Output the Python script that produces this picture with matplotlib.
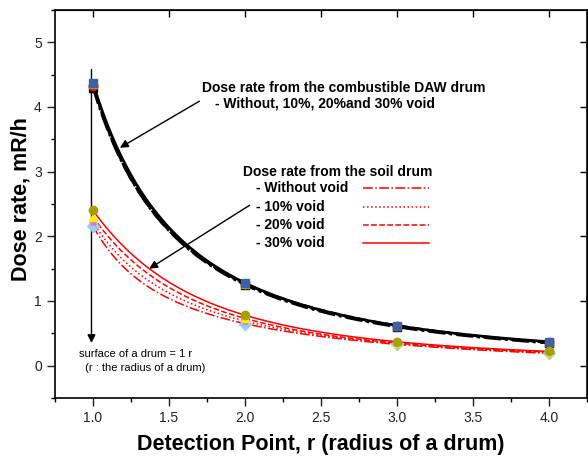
import numpy as np
import matplotlib
matplotlib.use('Agg')
import matplotlib.pyplot as plt

plt.rcParams['font.family'] = ['Liberation Sans', 'DejaVu Sans']

# detection points (in drum radii)
r_points = [1.0, 2.0, 3.0, 4.0]
void_labels = ['Without void', '10% void', '20% void', '30% void']

# dose rate, mR/h - combustible DAW drum
daw_0 = [4.30, 1.25, 0.60, 0.35]
daw_10 = [4.33, 1.26, 0.61, 0.36]
daw_20 = [4.35, 1.27, 0.62, 0.36]
daw_30 = [4.37, 1.28, 0.62, 0.37]

# dose rate, mR/h - soil drum
soil_0 = [2.16, 0.65, 0.33, 0.19]
soil_10 = [2.22, 0.69, 0.34, 0.20]
soil_20 = [2.30, 0.73, 0.35, 0.21]
soil_30 = [2.40, 0.78, 0.37, 0.22]

line_styles = ['-.', ':', '--', '-']
daw_markers = [('s', 'black'), ('o', 'red'), ('^', '#8cbf00'), ('s', '#3b62a3')]
soil_markers = [('D', '#99ccee'), ('*', '#ff66cc'), ('^', '#ffee00'), ('o', '#a6a000')]


def smooth(r, y):
    # cubic through the 4 points in log-log space, just for a smooth drawn line
    c = np.polyfit(np.log(r), np.log(y), 3)
    rr = np.linspace(min(r), max(r), 200)
    return rr, np.exp(np.polyval(c, np.log(rr)))


fig = plt.figure(figsize=(5.88, 4.57), dpi=100)
ax = fig.add_axes([55 / 588, 1 - 398 / 457, 532 / 588, 388 / 457])

r = np.array(r_points)
for ys, ls in zip([daw_0, daw_10, daw_20, daw_30], line_styles):
    xs, yy = smooth(r, np.array(ys))
    ax.plot(xs, yy, color='black', ls=ls, lw=1.9)

soil_handles = []
for ys, ls in zip([soil_0, soil_10, soil_20, soil_30], line_styles):
    xs, yy = smooth(r, np.array(ys))
    h, = ax.plot(xs, yy, color='red', ls=ls, lw=1.1)
    soil_handles.append(h)

for ys, (m, c) in zip([daw_0, daw_10, daw_20, daw_30], daw_markers):
    ax.plot(r_points, ys, ls='none', marker=m, color=c, ms=6, mec=c, zorder=5)
for ys, (m, c) in zip([soil_0, soil_10, soil_20, soil_30], soil_markers):
    ax.plot(r_points, ys, ls='none', marker=m, color=c, ms=6, mec=c, zorder=5)

ax.set_xlim(0.75, 4.25)
ax.set_ylim(-0.5, 5.5)
ax.set_xticks(np.arange(1.0, 4.01, 0.5))
ax.set_xticklabels(['1.0', '1.5', '2.0', '2.5', '3.0', '3.5', '4.0'])
ax.set_xticks(np.arange(0.75, 4.26, 0.25), minor=True)
ax.set_yticks(range(0, 6))
ax.set_yticks(np.arange(-0.5, 5.51, 0.5), minor=True)
ax.tick_params(which='major', direction='out', length=6, width=1, labelsize=10, colors='#222222')
ax.tick_params(which='minor', direction='out', length=3, width=1)
for s in ax.spines.values():
    s.set_linewidth(1.2)

top = ax.secondary_xaxis('top')
top.set_xticks(np.arange(1.0, 4.01, 0.5))
top.tick_params(direction='in', length=5, width=1, labeltop=False)
right = ax.secondary_yaxis('right')
right.set_yticks(range(0, 6))
right.tick_params(direction='in', length=5, width=1, labelright=False)

ax.set_xlabel('Detection Point, r (radius of a drum)', fontsize=15.5, fontweight='bold', labelpad=6)
ax.set_ylabel('Dose rate, mR/h', fontsize=15.5, fontweight='bold')
ax.yaxis.set_label_coords(-0.044, 0.513)

# annotations
ax.text(1.72, 4.29, 'Dose rate from the combustible DAW drum', fontsize=10,
        fontweight='bold', va='center', ha='left')
ax.text(1.80, 4.05, '- Without, 10%, 20%and 30% void', fontsize=10,
        fontweight='bold', va='center', ha='left')
arrow = dict(arrowstyle='-|>', color='black', lw=1.0, mutation_scale=12, shrinkA=0, shrinkB=0)
ax.annotate('', xy=(1.177, 3.37), xytext=(1.70, 4.09), arrowprops=arrow)
ax.annotate('', xy=(1.37, 1.50), xytext=(2.03, 2.48), arrowprops=arrow)
ax.annotate('', xy=(0.99, 0.35), xytext=(0.99, 4.58), arrowprops=arrow)
ax.text(0.905, 0.18, 'surface of a drum = 1 r', fontsize=8, va='center', ha='left')
ax.text(0.925, -0.03, ' (r : the radius of a drum)', fontsize=8, va='center', ha='left')

# soil drum key, text first then the line sample
ax.text(0.3534, 0.5825, 'Dose rate from the soil drum', transform=ax.transAxes,
        fontsize=10, fontweight='bold', va='center', ha='left')
row_y = [0.5412, 0.4923, 0.4459, 0.3995]
for h, lab, yk in zip(soil_handles, void_labels, row_y):
    ax.text(0.3778, yk, '- ' + lab, transform=ax.transAxes,
            fontsize=10, fontweight='bold', va='center', ha='left')
    ax.plot([0.5789, 0.7030], [yk, yk], transform=ax.transAxes,
            color=h.get_color(), ls=h.get_linestyle(), lw=h.get_linewidth())

fig.savefig('out.png', dpi=100)
